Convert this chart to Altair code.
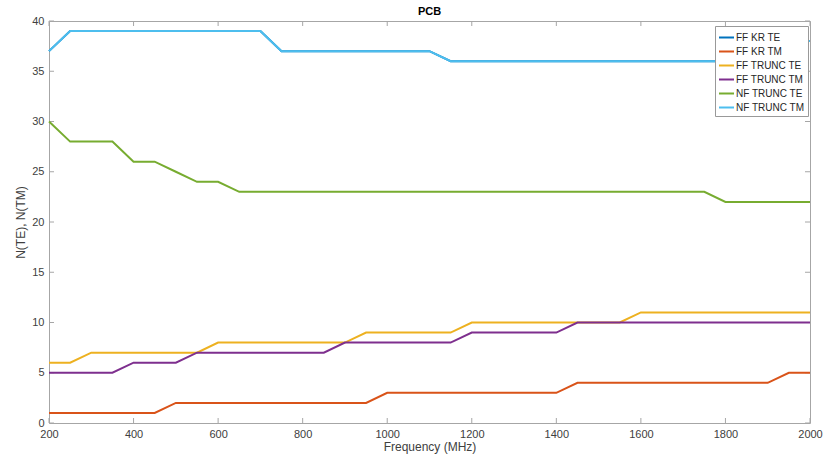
import altair as alt
import pandas as pd

freq = list(range(200, 2001, 50))

ff_kr_te = [37, 39, 39, 39, 39, 39, 39, 39, 39, 39, 39, 37, 37, 37, 37, 37, 37, 37, 37, 36,
            36, 36, 36, 36, 36, 36, 36, 36, 36, 36, 36, 36, 36, 36, 36, 38, 38]
ff_kr_tm = [1, 1, 1, 1, 1, 1, 2, 2, 2, 2, 2, 2, 2, 2, 2, 2, 3, 3, 3, 3,
            3, 3, 3, 3, 3, 4, 4, 4, 4, 4, 4, 4, 4, 4, 4, 5, 5]
ff_trunc_te = [6, 6, 7, 7, 7, 7, 7, 7, 8, 8, 8, 8, 8, 8, 8, 9, 9, 9, 9, 9,
               10, 10, 10, 10, 10, 10, 10, 10, 11, 11, 11, 11, 11, 11, 11, 11, 11]
ff_trunc_tm = [5, 5, 5, 5, 6, 6, 6, 7, 7, 7, 7, 7, 7, 7, 8, 8, 8, 8, 8, 8,
               9, 9, 9, 9, 9, 10, 10, 10, 10, 10, 10, 10, 10, 10, 10, 10, 10]
nf_trunc_te = [30, 28, 28, 28, 26, 26, 25, 24, 24, 23, 23, 23, 23, 23, 23, 23, 23, 23, 23, 23,
               23, 23, 23, 23, 23, 23, 23, 23, 23, 23, 23, 23, 22, 22, 22, 22, 22]
nf_trunc_tm = [37, 39, 39, 39, 39, 39, 39, 39, 39, 39, 39, 37, 37, 37, 37, 37, 37, 37, 37, 36,
               36, 36, 36, 36, 36, 36, 36, 36, 36, 36, 36, 36, 36, 36, 36, 38, 38]

series_names = ["FF KR TE", "FF KR TM", "FF TRUNC TE", "FF TRUNC TM", "NF TRUNC TE", "NF TRUNC TM"]
series_values = [ff_kr_te, ff_kr_tm, ff_trunc_te, ff_trunc_tm, nf_trunc_te, nf_trunc_tm]
colors = ["#0072BD", "#D95319", "#EDB120", "#7E2F8E", "#77AC30", "#4DBEEE"]

x_ticks = list(range(200, 2001, 200))
y_ticks = list(range(0, 41, 5))

rows = []
for i, (name, vals) in enumerate(zip(series_names, series_values)):
    for f, v in zip(freq, vals):
        rows.append({"freq": f, "n": v, "series": name, "order": i})
df = pd.DataFrame(rows)

W, H = 761, 402
FONT = "Liberation Sans"
AX = "#a6a6a6"
TXT = "#404040"

xscale = alt.Scale(domain=[200, 2000], nice=False)
yscale = alt.Scale(domain=[0, 40], nice=False)

lines = alt.Chart(df).mark_line(strokeWidth=2).encode(
    x=alt.X("freq:Q", scale=xscale, title="Frequency (MHz)",
            axis=alt.Axis(values=x_ticks, format="d", ticks=False, domain=False, grid=False,
                          labelPadding=5, titlePadding=2, labelFlush=False)),
    y=alt.Y("n:Q", scale=yscale, title="N(TE), N(TM)",
            axis=alt.Axis(values=y_ticks, ticks=False, domain=False, grid=False,
                          labelPadding=5, titlePadding=4)),
    color=alt.Color("series:N", scale=alt.Scale(domain=series_names, range=colors),
                    sort=series_names,
                    legend=alt.Legend(title=None, orient="none", legendX=666, legendY=5,
                                      symbolType="stroke", symbolSize=225, symbolStrokeWidth=2,
                                      labelFontSize=10, labelFont=FONT, labelColor="#262626",
                                      rowPadding=-2, labelOffset=1, padding=3,
                                      fillColor="white", strokeColor="#999999", cornerRadius=0)),
    order="order:Q",
    detail="series:N",
)

xt = pd.DataFrame({"v": x_ticks})
yt = pd.DataFrame({"v": y_ticks})

xtick_bottom = alt.Chart(xt).mark_rule(color=AX, strokeWidth=1).encode(
    x=alt.X("v:Q", scale=xscale), y=alt.value(H), y2=alt.value(H - 5))
xtick_top = alt.Chart(xt).mark_rule(color=AX, strokeWidth=1).encode(
    x=alt.X("v:Q", scale=xscale), y=alt.value(0), y2=alt.value(5))
ytick_left = alt.Chart(yt).mark_rule(color=AX, strokeWidth=1).encode(
    y=alt.Y("v:Q", scale=yscale), x=alt.value(0), x2=alt.value(5))
ytick_right = alt.Chart(yt).mark_rule(color=AX, strokeWidth=1).encode(
    y=alt.Y("v:Q", scale=yscale), x=alt.value(W), x2=alt.value(W - 5))

chart = alt.layer(xtick_bottom, xtick_top, ytick_left, ytick_right, lines).properties(
    width=W, height=H,
    title=alt.TitleParams("PCB", fontSize=11, fontWeight="bold", font=FONT, color="#000000",
                          anchor="middle", offset=-2),
    autosize=alt.AutoSizeParams(type="none"),
    padding={"left": 49, "top": 21, "right": 22, "bottom": 35},
).configure_view(
    stroke=AX, strokeWidth=1
).configure_axis(
    labelFont=FONT, titleFont=FONT, labelFontSize=11, titleFontSize=12,
    labelColor=TXT, titleColor=TXT, titleFontWeight="normal"
)

chart.save("out.html", embed_options={"renderer": "svg", "actions": False})
